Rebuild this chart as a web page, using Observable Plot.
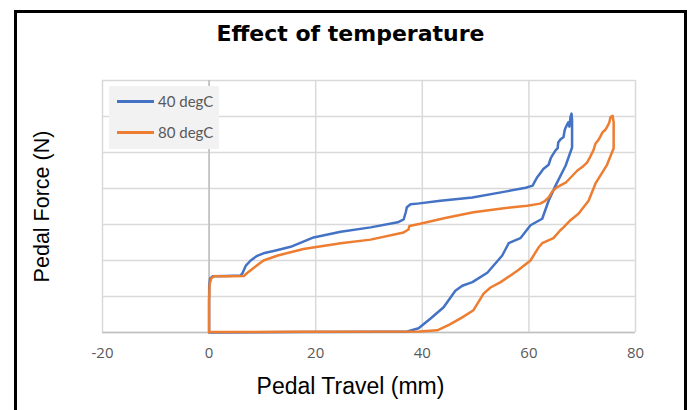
<!DOCTYPE html>
<html>
<head>
<meta charset="utf-8">
<script src="https://cdn.jsdelivr.net/npm/d3@7"></script>
<script src="https://cdn.jsdelivr.net/npm/@observablehq/plot@0.6"></script>
<style>
  html, body { margin: 0; padding: 0; background: #fff; }
  #wrap { position: relative; width: 689px; height: 410px; overflow: hidden; }
  #border { position: absolute; left: 14px; top: 10px; width: 667px; height: 430px; border: 3px solid #000; pointer-events: none; }
  #legend { position: absolute; left: 109px; top: 86px; width: 110px; height: 63px; background: #f2f2f2; font-family: Lato, "Open Sans", sans-serif; font-size: 15px; color: #595959; }
  .item { position: absolute; left: 8px; display: flex; align-items: center; }
  .sw { width: 37px; height: 3px; margin-right: 4px; }
</style>
</head>
<body>
<div id="wrap">
  <div id="chart"></div>
  <div id="legend"></div>
  <div id="border"></div>
</div>
<script>
const title = "Effect of temperature";
const xLabel = "Pedal Travel (mm)";
const yLabel = "Pedal Force (N)";
const seriesNames = ["40 degC", "80 degC"];
const seriesColors = ["#4472C4", "#ED7D31"];
const xTicks = [-20, 0, 20, 40, 60, 80];
const yTicks = [0, 50, 100, 150, 200, 250, 300, 350];

// 40 degC loop (loading, then unloading)
const travel40 = [0, 0, 0.02, 0.2, 0.7, 3.1, 5.9, 6.3, 6.9, 7.8, 8.9, 10.2, 12.5, 15.3, 19.6, 24.7, 30.3, 35.4, 36.5, 36.9, 37.1, 37.8, 39.1, 43.4, 49.4, 55.8, 59.4, 60.7, 61.2, 61.6, 62.2, 62.7, 63.7, 64.1, 64.4, 65.0, 65.4, 65.5, 65.9, 66.5, 66.7, 66.8, 67.2, 67.4, 67.6, 67.8, 68.0,
  68.1, 68.1, 66.9, 65.0, 63.7, 62.5, 60.3, 58.4, 56.2, 55.0, 52.2, 49.4, 47.5, 46.2, 44.0, 41.5, 39.3, 37.2, 32.2, 17.2, 0];
const force40 = [0, 44, 65, 75, 78, 78.5, 79, 83, 93, 100, 106, 110, 114, 119, 132, 140, 146, 153, 157, 167, 174, 178, 179, 183, 187.5, 196, 201, 204, 211, 216, 222, 227, 233, 242, 246, 253, 256, 264, 268, 271.5, 280.5, 283, 289, 292, 286, 299, 304,
  294, 257, 232, 204, 183, 158, 149, 131, 124, 107, 83, 70, 65, 58, 35, 19, 6, 1.4, 1, 0.7, 0];

// 80 degC loop (loading, then unloading)
const travel80 = [0, 0, 0.1, 0.4, 0.9, 4.0, 6.5, 7.2, 8.4, 10.2, 12.9, 17.7, 24.7, 30.3, 36.5, 37.4, 37.6, 39.6, 44.3, 49.6, 54.6, 59.7, 62.1, 62.9, 63.7, 64.4, 65.3, 66.9, 69.1, 70.2, 70.9, 71.5, 72.1, 72.5, 73.0, 73.4, 73.8, 74.4, 74.7, 75.1, 75.3, 75.7,
  75.9, 75.9, 74.6, 72.5, 71.2, 69.3, 67.8, 66.5, 65.9, 64.6, 62.5, 61.8, 60.3, 57.9, 54.7, 52.8, 51.5, 49.6, 47.5, 45.1, 42.8, 39.5, 17.2, 0];
const force80 = [0, 44, 67, 75, 78, 78, 78.5, 83, 90, 100, 107, 116, 124, 129, 139, 143, 148, 151, 159, 167, 172, 176, 179, 182, 187.5, 196, 202, 208, 225, 231, 236, 244, 253, 262.5, 267, 272, 278, 282, 286, 292, 299, 301,
  292, 256, 232, 207, 183, 165, 156, 146, 142, 131, 124, 118, 100, 86, 70, 62.5, 54, 31, 21, 11, 3, 1.4, 1, 0.7];

const rows = [
  ...travel40.map((t, i) => ({series: seriesNames[0], travel: t, force: force40[i]})),
  ...travel80.map((t, i) => ({series: seriesNames[1], travel: t, force: force80[i]}))
];

const chart = Plot.plot({
  width: 689,
  height: 410,
  marginLeft: 102,
  marginRight: 54,
  marginTop: 80,
  marginBottom: 78,
  style: {background: "transparent", overflow: "visible"},
  x: {domain: [-20, 80], axis: null},
  y: {domain: [0, 350], axis: null},
  marks: [
    Plot.gridX(xTicks, {stroke: "#d9d9d9", strokeOpacity: 1, strokeWidth: 1.5}),
    Plot.gridY(yTicks, {stroke: "#d9d9d9", strokeOpacity: 1, strokeWidth: 1.5}),
    Plot.ruleX([0], {stroke: "#bfbfbf", strokeWidth: 1.5}),
    Plot.ruleY([0], {stroke: "#bfbfbf", strokeWidth: 1.5}),
    Plot.text(xTicks, {x: d => d, text: d => String(d), frameAnchor: "bottom", lineAnchor: "middle", dy: 21, fontSize: 15, fontFamily: "Open Sans, sans-serif", fill: "#595959"}),
    Plot.line(rows, {x: "travel", y: "force", z: "series", stroke: "series", strokeWidth: 2.5, strokeLinejoin: "round"}),
    Plot.text([title], {frameAnchor: "top", lineAnchor: "middle", dx: -18.5, dy: -47, fontSize: 22, fontWeight: "bold", fontFamily: "DejaVu Sans, sans-serif", fill: "#000"}),
    Plot.text([xLabel], {frameAnchor: "bottom", lineAnchor: "middle", dx: -18.5, dy: 54, fontSize: 23, fontFamily: "Liberation Sans, Arial, sans-serif", fill: "#000"}),
    Plot.text([yLabel], {frameAnchor: "left", textAnchor: "middle", lineAnchor: "middle", dx: -60, rotate: -90, fontSize: 21.5, fontFamily: "Liberation Sans, Arial, sans-serif", fill: "#000"})
  ],
  color: {domain: seriesNames, range: seriesColors}
});
document.getElementById("chart").appendChild(chart);

const legend = document.getElementById("legend");
seriesNames.forEach((name, i) => {
  const item = document.createElement("div");
  item.className = "item";
  item.style.top = (i === 0 ? 6 : 37) + "px";
  const sw = document.createElement("div");
  sw.className = "sw";
  sw.style.background = seriesColors[i];
  const label = document.createElement("span");
  label.textContent = name;
  item.appendChild(sw);
  item.appendChild(label);
  legend.appendChild(item);
});
</script>
</body>
</html>
